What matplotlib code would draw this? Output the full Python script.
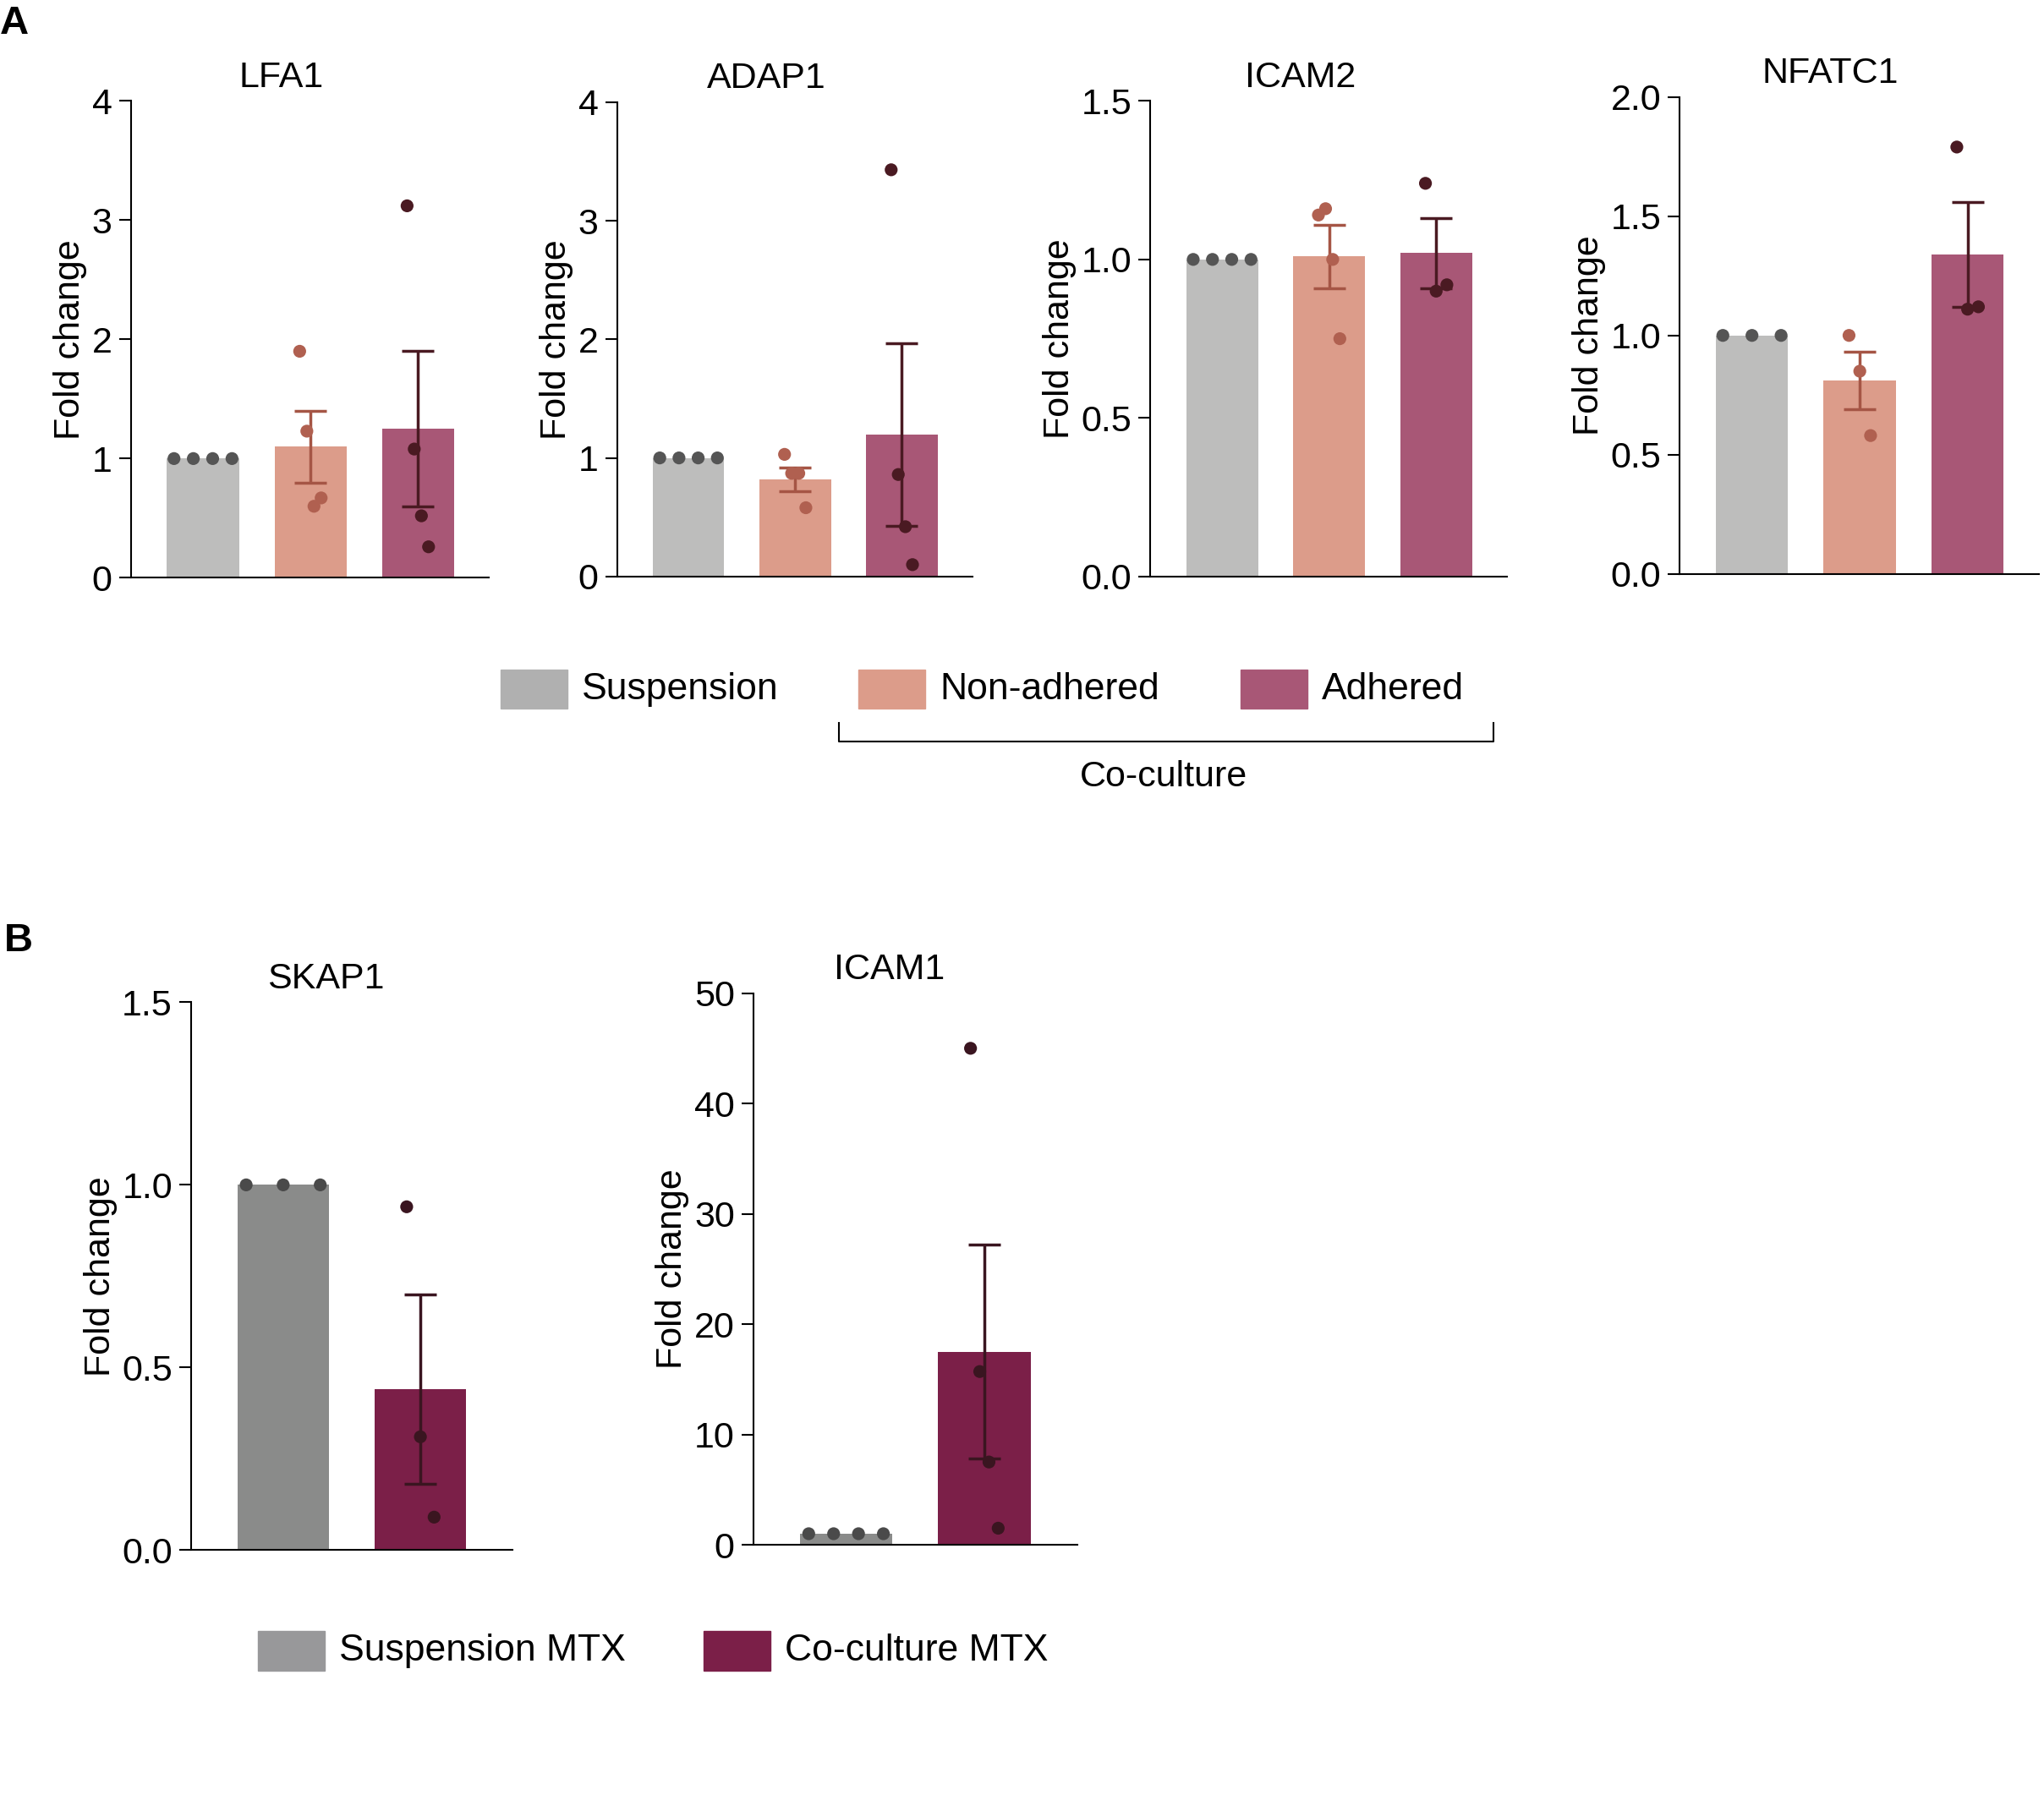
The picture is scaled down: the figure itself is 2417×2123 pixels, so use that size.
import matplotlib.pyplot as plt
import numpy as np
from matplotlib.patches import Rectangle
from matplotlib.lines import Line2D

plt.rcParams['font.family'] = ['Liberation Sans', 'DejaVu Sans']

W, H = 1560.0, 1370.0  # reference layout units

# ---- data ----
genes_a = ['LFA1', 'ADAP1', 'ICAM2', 'NFATC1']
means_a = [[1, 1.1, 1.25], [1, 0.82, 1.2], [1, 1.01, 1.02], [1, 0.81, 1.34]]
sems_a = [[0, 0.3, 0.65], [0, 0.1, 0.77], [0, 0.1, 0.11], [0, 0.12, 0.22]]
points_a = [
    [[1, 1, 1, 1], [1.9, 1.23, 0.6, 0.67], [3.12, 1.08, 0.52, 0.26]],
    [[1, 1, 1, 1], [1.03, 0.87, 0.87, 0.58], [3.43, 0.86, 0.42, 0.1]],
    [[1, 1, 1, 1], [1.14, 1.16, 1.0, 0.75], [1.24, 0.9, 0.92]],
    [[1, 1, 1], [1.0, 0.85, 0.58], [1.79, 1.11, 1.12]],
]
ylims_a = [4, 4, 1.5, 2.0]
yticks_a = [[0, 1, 2, 3, 4], [0, 1, 2, 3, 4], [0, 0.5, 1.0, 1.5], [0, 0.5, 1.0, 1.5, 2.0]]
fmt_a = ['%d', '%d', '%.1f', '%.1f']
boxes_a = [(100, 77, 373, 441), (471, 78, 742, 440), (878, 77, 1150, 440), (1282, 74, 1556, 438)]
groups_a = ['Suspension', 'Non-adhered', 'Adhered']

genes_b = ['SKAP1', 'ICAM1']
means_b = [[1, 0.44], [1, 17.5]]
sems_b = [[0, 0.26], [0, 9.7]]
points_b = [[[1, 1, 1], [0.94, 0.31, 0.09]], [[1, 1, 1, 1], [45, 15.7, 7.5, 1.5]]]
ylims_b = [1.5, 50]
yticks_b = [[0, 0.5, 1.0, 1.5], [0, 10, 20, 30, 40, 50]]
fmt_b = ['%.1f', '%d']
boxes_b = [(146, 765, 391, 1183), (575, 758, 822, 1179)]
groups_b = ['Suspension MTX', 'Co-culture MTX']

bar_a = ['#bdbdbc', '#dc9c8a', '#a85776']
dot_a = ['#555555', '#b06050', '#4a1a22']
err_a = ['#555555', '#a55545', '#4a1a22']
bar_b = ['#8a8b8a', '#7b1f48']
dot_b = ['#4a4a4a', '#3a1520']
err_b = ['#4a4a4a', '#3a1520']

fig = plt.figure(figsize=(24.17, 21.23), dpi=100)
FS = 31


def offsets(n, spread):
    if n == 1:
        return [0]
    return list(np.linspace(-spread, spread, n))


def panel(box, title, means, sems, pts, ymax, ticks, fmt, bcol, dcol, ecol, xmax):
    l, t, r, b = box
    ax = fig.add_axes([l / W, 1 - b / H, (r - l) / W, (b - t) / H])
    x = np.arange(len(means))
    ax.bar(x, means, width=0.67, color=bcol, zorder=1)
    for i in range(len(means)):
        n = len(pts[i])
        sp = 0.27 if i == 0 else 0.1
        ax.scatter(x[i] + np.array(offsets(n, sp)), pts[i], s=120, color=dcol[i], zorder=3,
                   edgecolors='none')
        if sems[i] > 0:
            ax.errorbar(x[i], means[i], yerr=sems[i], color=ecol[i], capsize=14, elinewidth=2.5,
                        capthick=2.5, zorder=2)
    ax.set_xlim(-0.67, xmax)
    ax.set_ylim(0, ymax)
    ax.set_yticks(ticks)
    ax.set_yticklabels([fmt % v for v in ticks], fontsize=FS)
    ax.set_xticks([])
    for s in ['top', 'right']:
        ax.spines[s].set_visible(False)
    for s in ['left', 'bottom']:
        ax.spines[s].set_linewidth(1.5)
    ax.tick_params(axis='y', length=10, width=1.5, pad=6)
    ax.set_ylabel('Fold change', fontsize=FS)
    ax.set_title(title, fontsize=FS, pad=12, x=0.42)


for k in range(4):
    panel(boxes_a[k], genes_a[k], means_a[k], sems_a[k], points_a[k], ylims_a[k],
          yticks_a[k], fmt_a[k], bar_a, dot_a, err_a, 2.66)
for k in range(2):
    panel(boxes_b[k], genes_b[k], means_b[k], sems_b[k], points_b[k], ylims_b[k],
          yticks_b[k], fmt_b[k], bar_b, dot_b, err_b, 1.67)


def legend_item(x0, y, col, label):
    fig.patches.append(Rectangle((x0 / W, 1 - (y + 15) / H), 51 / W, 30 / H,
                                 transform=fig.transFigure, color=col))
    fig.text((x0 + 62) / W, 1 - y / H, label, fontsize=FS + 1, va='center')


legend_item(382, 526, '#b0b0b0', groups_a[0])
legend_item(655, 526, bar_a[1], groups_a[1])
legend_item(947, 526, bar_a[2], groups_a[2])
bx = [640 / W, 640 / W, 1140 / W, 1140 / W]
by = [1 - 552 / H, 1 - 566 / H, 1 - 566 / H, 1 - 552 / H]
fig.lines.append(Line2D(bx, by, transform=fig.transFigure, color='black', lw=1.5))
fig.text(888 / W, 1 - 593 / H, 'Co-culture', fontsize=FS, ha='center', va='center')

legend_item(197, 1260, '#98989a', groups_b[0])
legend_item(537, 1260, bar_b[1], groups_b[1])

fig.text(0 / W, 1 - 18 / H, 'A', fontsize=34, fontweight='bold', va='center')
fig.text(3 / W, 1 - 718 / H, 'B', fontsize=34, fontweight='bold', va='center')

fig.savefig('out.png', dpi=100)
